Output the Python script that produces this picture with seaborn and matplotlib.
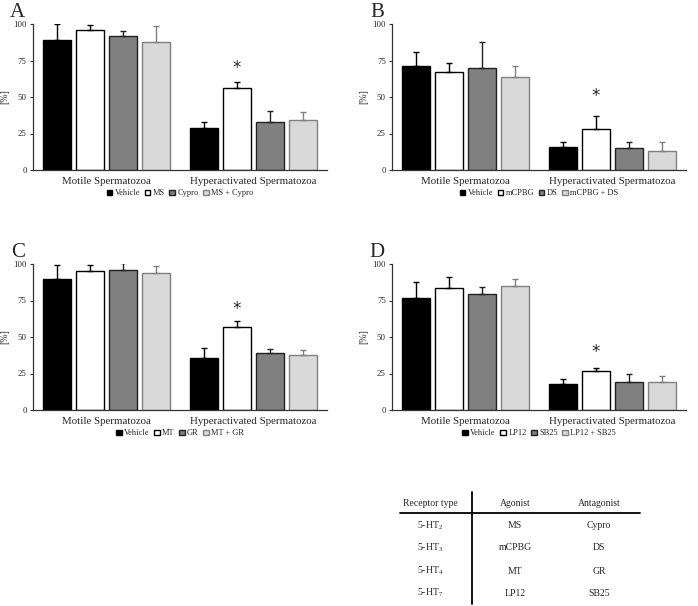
import numpy as np
import pandas as pd
import matplotlib
matplotlib.use("Agg")
import matplotlib.pyplot as plt
import seaborn as sns

sns.set_theme(style="white")
plt.rcParams['font.family'] = ['Liberation Serif', 'DejaVu Serif']
plt.rcParams['mathtext.fontset'] = 'custom'
plt.rcParams['mathtext.rm'] = 'Liberation Serif'
plt.rcParams['mathtext.it'] = 'Liberation Serif:italic'

categories = ["Motile Spermatozoa", "Hyperactivated Spermatozoa"]

panel_letters = ["A", "B", "C", "D"]
treatments_A = ["Vehicle", "MS", "Cypro", "MS + Cypro"]
treatments_B = ["Vehicle", "mCPBG", "DS", "mCPBG + DS"]
treatments_C = ["Vehicle", "MT", "GR", "MT + GR"]
treatments_D = ["Vehicle", "LP12", "SB25", "LP12 + SB25"]

# mean values [treatment][category]
means_A = [[89, 29], [96, 56], [92, 33], [88, 34]]
errtop_A = [[100, 33], [99, 60.5], [95.5, 40.5], [98.5, 39.5]]
means_B = [[71, 15.5], [67, 28], [70, 15], [63.5, 13]]
errtop_B = [[80.5, 19.5], [73.5, 37], [88, 19.5], [71.5, 19.5]]
means_C = [[89.5, 35.5], [95, 57], [96, 39], [93.5, 37.5]]
errtop_C = [[99.5, 42.5], [99.5, 61], [100.5, 41.5], [98.5, 41]]
means_D = [[76.5, 18], [83.5, 26.5], [79.5, 19], [85, 19]]
errtop_D = [[88, 21.5], [91, 28.5], [84, 24.5], [90, 23]]
star_y = [70, 51, 69, 40]

yticks = [0, 25, 50, 75, 100]

table_header = ["Receptor type", "Agonist", "Antagonist"]
receptors = ["5-HT$_{2}$", "5-HT$_{3}$", "5-HT$_{4}$", "5-HT$_{7}$"]
agonists = ["MS", "mCPBG", "MT", "LP12"]
antagonists = ["Cypro", "DS", "GR", "SB25"]

fill_colors = ["#000000", "#ffffff", "#808080", "#d9d9d9"]
edge_colors = ["#000000", "#000000", "#222222", "#808080"]

W, H = 698, 606
fig = plt.figure(figsize=(W / 100, H / 100), dpi=100)

def axes_px(left, top, right, bottom):
    return fig.add_axes([left / W, 1 - bottom / H, (right - left) / W, (bottom - top) / H])

panels = [
    (treatments_A, means_A, errtop_A, (33, 24, 327, 170)),
    (treatments_B, means_B, errtop_B, (392, 24, 686, 170)),
    (treatments_C, means_C, errtop_C, (33, 264, 327, 410)),
    (treatments_D, means_D, errtop_D, (392, 264, 686, 410)),
]

for pi, (treats, means, errtop, box) in enumerate(panels):
    ax = axes_px(*box)
    rows = []
    for ti, t in enumerate(treats):
        for ci, c in enumerate(categories):
            rows.append({"category": c, "treatment": t, "value": means[ti][ci]})
    df = pd.DataFrame(rows)
    sns.barplot(data=df, x="category", y="value", hue="treatment",
                order=categories, hue_order=treats,
                palette=dict(zip(treats, fill_colors)),
                width=0.898, gap=0.18, errorbar=None, ax=ax,
                saturation=1, linewidth=1.0)
    bar_conts = list(ax.containers)
    handles = []
    for ti, cont in enumerate(bar_conts):
        for ci, bar in enumerate(cont.patches):
            bar.set_edgecolor(edge_colors[ti])
            bar.set_linewidth(1.0)
            xc = bar.get_x() + bar.get_width() / 2
            h = bar.get_height()
            err = errtop[ti][ci] - h
            ax.errorbar(xc, h, yerr=[[0], [err]], fmt='none',
                        ecolor=edge_colors[ti], elinewidth=1.0,
                        capsize=2.5, capthick=1.0, zorder=1)
        handles.append(cont.patches[0])
    # asterisk above the agonist bar in hyperactivated group
    star_bar = bar_conts[1].patches[1]
    ax.text(star_bar.get_x() + star_bar.get_width() / 2, star_y[pi], "*",
            ha="center", va="center", fontsize=12, family="DejaVu Sans")
    ax.set_xlim(-0.5, 1.5)
    ax.set_ylim(0, 100)
    ax.set_yticks(yticks)
    ax.set_yticklabels([str(v) for v in yticks], fontsize=6.3)
    ax.tick_params(axis='y', which='both', left=True, length=2.5, width=0.8,
                   pad=2, color="#333333")
    ax.tick_params(axis='x', length=0, pad=5, labelsize=7.8)
    ax.set_xlabel("")
    ax.set_ylabel("[%]", fontsize=7.2, labelpad=3)
    for s in ["top", "right"]:
        ax.spines[s].set_visible(False)
    for s in ["left", "bottom"]:
        ax.spines[s].set_color("#333333")
        ax.spines[s].set_linewidth(0.9)
    leg = ax.get_legend()
    if leg is not None:
        leg.remove()
    ax.legend(handles, treats, ncol=4, loc="upper center",
              bbox_to_anchor=(0.5, -0.11), frameon=False,
              handlelength=0.7, handleheight=0.7, columnspacing=0.5,
              handletextpad=0.3, fontsize=6.0, borderaxespad=0)
    ax.text(-0.027, 1.048, panel_letters[pi], transform=ax.transAxes,
            fontsize=15, ha="right", va="baseline")

# table of agents
tab = axes_px(395, 485, 690, 606)
tab.set_xlim(395, 690)
tab.set_ylim(606, 485)
tab.axis("off")
col_x = [430, 515, 599]
for x, t in zip(col_x, table_header):
    tab.text(x, 504, t, ha="center", va="center", fontsize=7)
tab.plot([400, 640], [513, 513], color="black", lw=1.3)
tab.plot([472, 472], [492, 604], color="black", lw=1.3)
row_y = [526, 548, 571, 593]
for y, r, a, an in zip(row_y, receptors, agonists, antagonists):
    tab.text(col_x[0], y, r, ha="center", va="center", fontsize=7)
    tab.text(col_x[1], y, a, ha="center", va="center", fontsize=7)
    tab.text(col_x[2], y, an, ha="center", va="center", fontsize=7)

fig.savefig("out.png", dpi=100)
